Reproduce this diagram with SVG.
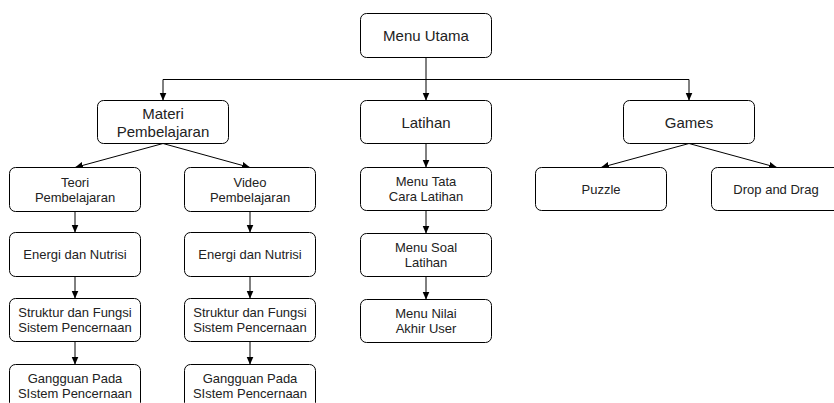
<svg xmlns="http://www.w3.org/2000/svg" width="834" height="403" viewBox="0 0 834 403">
<defs>
<style>
.box{fill:#fff;stroke:#000;stroke-width:1}
.t{font-family:"Liberation Sans",Arial,sans-serif;font-size:13px;fill:#222;text-anchor:middle}
.big{font-size:15px}
.edge{fill:none;stroke:#000;stroke-width:1}
</style>
<marker id="arr" markerUnits="userSpaceOnUse" markerWidth="8" markerHeight="8" viewBox="0 0 8 8" refX="8" refY="4" orient="auto">
<path d="M0,0.5 L8,4 L0,7.5 Z" fill="#000"/>
</marker>
</defs>
<rect width="834" height="403" fill="#fff"/>
<g id="connectors">
<path class="edge" d="M426,57.5 V100.5" marker-end="url(#arr)"/>
<path class="edge" d="M426,79.5 H163 V100.5" marker-end="url(#arr)"/>
<path class="edge" d="M426,79.5 H689 V100.5" marker-end="url(#arr)"/>
<path class="edge" d="M163,143.5 L75,167.5" marker-end="url(#arr)"/>
<path class="edge" d="M163,143.5 L250,167.5" marker-end="url(#arr)"/>
<path class="edge" d="M75,211.5 V232.5" marker-end="url(#arr)"/>
<path class="edge" d="M75,276.5 V298.5" marker-end="url(#arr)"/>
<path class="edge" d="M75,341.5 V364.5" marker-end="url(#arr)"/>
<path class="edge" d="M250,211.5 V232.5" marker-end="url(#arr)"/>
<path class="edge" d="M250,276.5 V298.5" marker-end="url(#arr)"/>
<path class="edge" d="M250,341.5 V364.5" marker-end="url(#arr)"/>
<path class="edge" d="M426,143.5 V167.5" marker-end="url(#arr)"/>
<path class="edge" d="M426,210.5 V233.5" marker-end="url(#arr)"/>
<path class="edge" d="M426,276.5 V299.5" marker-end="url(#arr)"/>
<path class="edge" d="M689,143.5 L601,167.5" marker-end="url(#arr)"/>
<path class="edge" d="M689,143.5 L777,167.5" marker-end="url(#arr)"/>
</g>
<g id="menu-utama"><rect class="box" x="360.5" y="13.5" width="131" height="44" rx="6"/><text class="t big" x="426" y="41">Menu Utama</text></g>
<g id="materi"><rect class="box" x="97.5" y="100.5" width="131" height="43" rx="6"/><text class="t big" x="163" y="119">Materi</text><text class="t big" x="163" y="137">Pembelajaran</text></g>
<g id="latihan"><rect class="box" x="360.5" y="100.5" width="131" height="43" rx="6"/><text class="t big" x="426" y="127.5">Latihan</text></g>
<g id="games"><rect class="box" x="623.5" y="100.5" width="131" height="43" rx="6"/><text class="t big" x="689" y="127.5">Games</text></g>
<g id="teori"><rect class="box" x="9.5" y="167.5" width="131" height="44" rx="6"/><text class="t" x="75" y="187">Teori</text><text class="t" x="75" y="202">Pembelajaran</text></g>
<g id="video"><rect class="box" x="184.5" y="167.5" width="131" height="44" rx="6"/><text class="t" x="250" y="187">Video</text><text class="t" x="250" y="202">Pembelajaran</text></g>
<g id="energi-1"><rect class="box" x="9.5" y="232.5" width="131" height="44" rx="6"/><text class="t" x="75" y="259">Energi dan Nutrisi</text></g>
<g id="energi-2"><rect class="box" x="184.5" y="232.5" width="131" height="44" rx="6"/><text class="t" x="250" y="259">Energi dan Nutrisi</text></g>
<g id="struktur-1"><rect class="box" x="9.5" y="298.5" width="131" height="43" rx="6"/><text class="t" x="75" y="317">Struktur dan Fungsi</text><text class="t" x="75" y="332">Sistem Pencernaan</text></g>
<g id="struktur-2"><rect class="box" x="184.5" y="298.5" width="131" height="43" rx="6"/><text class="t" x="250" y="317">Struktur dan Fungsi</text><text class="t" x="250" y="332">Sistem Pencernaan</text></g>
<g id="gangguan-1"><rect class="box" x="9.5" y="364.5" width="131" height="44" rx="6"/><text class="t" x="75" y="383">Gangguan Pada</text><text class="t" x="75" y="398">SIstem Pencernaan</text></g>
<g id="gangguan-2"><rect class="box" x="184.5" y="364.5" width="131" height="44" rx="6"/><text class="t" x="250" y="383">Gangguan Pada</text><text class="t" x="250" y="398">SIstem Pencernaan</text></g>
<g id="tata-cara"><rect class="box" x="360.5" y="167.5" width="131" height="43" rx="6"/><text class="t" x="426" y="186">Menu Tata</text><text class="t" x="426" y="201">Cara Latihan</text></g>
<g id="soal"><rect class="box" x="360.5" y="233.5" width="131" height="43" rx="6"/><text class="t" x="426" y="252">Menu Soal</text><text class="t" x="426" y="267">Latihan</text></g>
<g id="nilai"><rect class="box" x="360.5" y="299.5" width="131" height="43" rx="6"/><text class="t" x="426" y="318">Menu Nilai</text><text class="t" x="426" y="333">Akhir User</text></g>
<g id="puzzle"><rect class="box" x="535.5" y="167.5" width="131" height="43" rx="6"/><text class="t" x="601" y="193.5">Puzzle</text></g>
<g id="drop-drag"><rect class="box" x="711.5" y="167.5" width="131" height="43" rx="6"/><text class="t" x="776" y="193.5">Drop and Drag</text></g>
</svg>
